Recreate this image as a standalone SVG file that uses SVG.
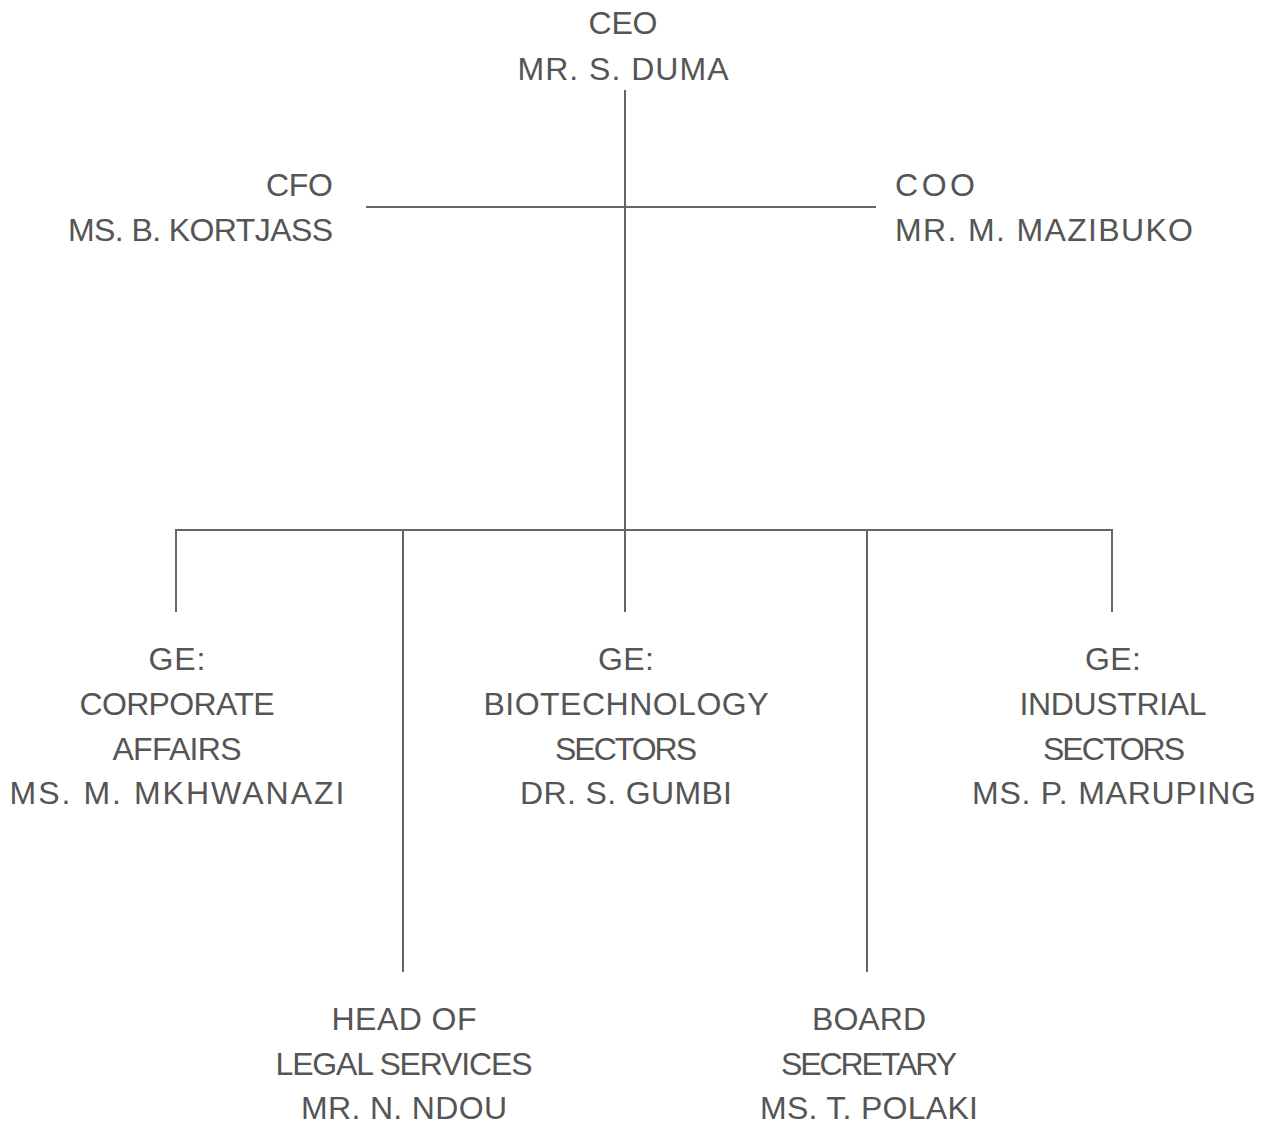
<svg xmlns="http://www.w3.org/2000/svg" width="1275" height="1124" viewBox="0 0 1275 1124">
<style>
.t{font-family:"Liberation Sans",Arial,sans-serif;font-size:32px;fill:#555}
.m{text-anchor:middle}
.e{text-anchor:end}
.c{stroke:#666;stroke-width:2;fill:none}
</style>
<rect width="1275" height="1124" fill="#fff"/>
<g id="connectors" class="c">
<line x1="625" y1="90" x2="625" y2="531"/>
<line x1="366" y1="207" x2="876" y2="207"/>
<line x1="175" y1="530" x2="1113" y2="530"/>
<line x1="176" y1="529" x2="176" y2="612"/>
<line x1="403" y1="529" x2="403" y2="972"/>
<line x1="625" y1="529" x2="625" y2="612"/>
<line x1="867" y1="529" x2="867" y2="972"/>
<line x1="1112" y1="529" x2="1112" y2="612"/>
</g>
<g id="ceo" class="t m"><text x="623" y="34" textLength="69" lengthAdjust="spacing">CEO</text><text x="623" y="80" textLength="211" lengthAdjust="spacing">MR. S. DUMA</text></g>
<g id="cfo" class="t e"><text x="333" y="196" textLength="67" lengthAdjust="spacing">CFO</text><text x="333" y="241" textLength="265" lengthAdjust="spacing">MS. B. KORTJASS</text></g>
<g id="coo" class="t"><text x="895" y="196" textLength="80" lengthAdjust="spacing">COO</text><text x="895" y="241" textLength="298" lengthAdjust="spacing">MR. M. MAZIBUKO</text></g>
<g id="ge-corporate" class="t m"><text x="177" y="670" textLength="57" lengthAdjust="spacing">GE:</text><text x="177" y="715" textLength="195" lengthAdjust="spacing">CORPORATE</text><text x="177" y="760" textLength="129" lengthAdjust="spacing">AFFAIRS</text><text x="177" y="804" textLength="335" lengthAdjust="spacing">MS. M. MKHWANAZI</text></g>
<g id="ge-biotech" class="t m"><text x="626" y="670" textLength="56" lengthAdjust="spacing">GE:</text><text x="626" y="715" textLength="285" lengthAdjust="spacing">BIOTECHNOLOGY</text><text x="626" y="760" textLength="142" lengthAdjust="spacing">SECTORS</text><text x="626" y="804" textLength="212" lengthAdjust="spacing">DR. S. GUMBI</text></g>
<g id="ge-industrial" class="t m"><text x="1113" y="670" textLength="56" lengthAdjust="spacing">GE:</text><text x="1113" y="715" textLength="187" lengthAdjust="spacing">INDUSTRIAL</text><text x="1114" y="760" textLength="142" lengthAdjust="spacing">SECTORS</text><text x="1114" y="804" textLength="284" lengthAdjust="spacing">MS. P. MARUPING</text></g>
<g id="legal" class="t m"><text x="404" y="1030" textLength="145" lengthAdjust="spacing">HEAD OF</text><text x="404" y="1075" textLength="257" lengthAdjust="spacing">LEGAL SERVICES</text><text x="404" y="1119" textLength="206" lengthAdjust="spacing">MR. N. NDOU</text></g>
<g id="board" class="t m"><text x="869" y="1030" textLength="114" lengthAdjust="spacing">BOARD</text><text x="869" y="1075" textLength="176" lengthAdjust="spacing">SECRETARY</text><text x="869" y="1119" textLength="218" lengthAdjust="spacing">MS. T. POLAKI</text></g>
</svg>
